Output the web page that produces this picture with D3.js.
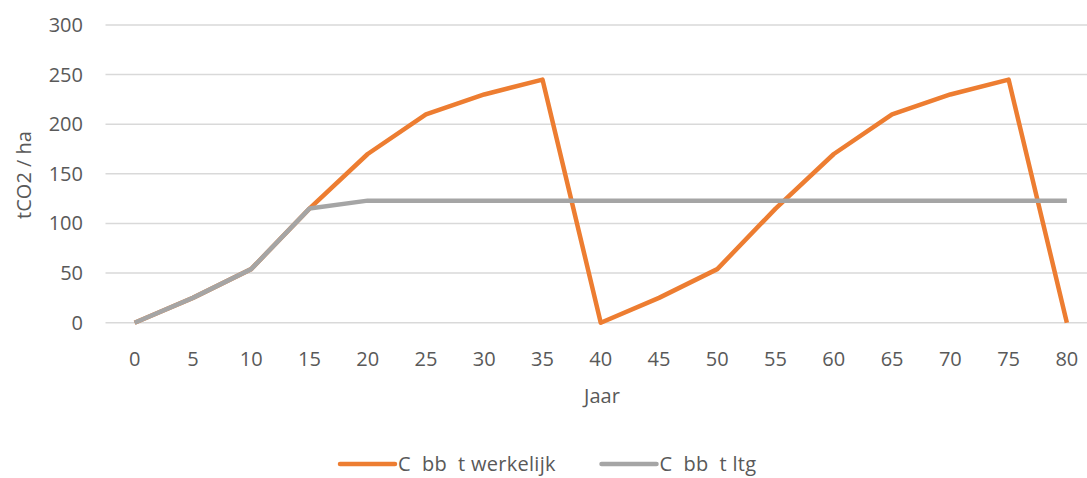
<!DOCTYPE html>
<html>
<head>
<meta charset="utf-8">
<script src="https://cdn.jsdelivr.net/npm/d3@7"></script>
<style>
  body { margin: 0; background: #fff; }
  text { font-family: "Open Sans", sans-serif; fill: #595959; white-space: pre; }
</style>
</head>
<body>
<div id="chart"></div>
<script>
// chart data
var years = [0, 5, 10, 15, 20, 25, 30, 35, 40, 45, 50, 55, 60, 65, 70, 75, 80];
var werkelijk = [0, 25, 54, 115, 170, 210, 230, 245, 0, 25, 54, 115, 170, 210, 230, 245, 0];
var ltg = [0, 25, 54, 115, 123, 123, 123, 123, 123, 123, 123, 123, 123, 123, 123, 123, 123];
var yTicks = [0, 50, 100, 150, 200, 250, 300];
var seriesNames = ["C  bb  t werkelijk", "C  bb  t ltg"];
var seriesColors = ["#ED7D31", "#A5A5A5"];

var width = 1087;
var height = 478;

var svg = d3.select("#chart").append("svg")
    .attr("width", width)
    .attr("height", height);

var x = d3.scaleBand()
    .domain(years)
    .range([105.5, 1096]);

var y = d3.scaleLinear()
    .domain([0, 300])
    .range([322.7, 25]);

function cx(d) { return x(d) + x.bandwidth() / 2; }

// gridlines
svg.append("g")
  .selectAll("line")
  .data(yTicks)
  .enter()
  .append("line")
    .attr("x1", x.range()[0])
    .attr("x2", x.range()[1])
    .attr("y1", function(d) { return y(d); })
    .attr("y2", function(d) { return y(d); })
    .attr("stroke", "#D9D9D9")
    .attr("stroke-width", 1.5);

// y tick labels
svg.append("g")
  .selectAll("text")
  .data(yTicks)
  .enter()
  .append("text")
    .attr("x", 83)
    .attr("y", function(d) { return y(d); })
    .attr("dy", "0.35em")
    .attr("text-anchor", "end")
    .style("font-size", "20px")
    .text(function(d) { return d; });

// x tick labels
svg.append("g")
  .selectAll("text")
  .data(years)
  .enter()
  .append("text")
    .attr("x", cx)
    .attr("y", 359)
    .attr("dy", "0.35em")
    .attr("text-anchor", "middle")
    .style("font-size", "20px")
    .text(function(d) { return d; });

// axis titles
svg.append("text")
    .attr("transform", "translate(24,175) rotate(-90)")
    .attr("dy", "0.35em")
    .attr("text-anchor", "middle")
    .style("font-size", "20px")
    .text("tCO2 / ha");

svg.append("text")
    .attr("x", 602)
    .attr("y", 396)
    .attr("dy", "0.35em")
    .attr("text-anchor", "middle")
    .style("font-size", "20px")
    .text("Jaar");

// lines, orange first so the grey one sits on top
var line = d3.line()
    .x(function(d, i) { return cx(years[i]); })
    .y(function(d) { return y(d); });

[werkelijk, ltg].forEach(function(values, i) {
  svg.append("path")
      .datum(values)
      .attr("fill", "none")
      .attr("stroke", seriesColors[i])
      .attr("stroke-width", 4.5)
      .attr("stroke-linejoin", "round")
      .attr("d", line);
});

// legend
var legendX = [340, 601.5];
var legend = svg.append("g")
  .selectAll("g")
  .data(seriesNames)
  .enter()
  .append("g")
    .attr("transform", function(d, i) { return "translate(" + legendX[i] + ",464)"; });

legend.append("line")
    .attr("x1", 0)
    .attr("x2", 55)
    .attr("stroke", function(d, i) { return seriesColors[i]; })
    .attr("stroke-width", 4.5)
    .attr("stroke-linecap", "round");

legend.append("text")
    .attr("x", 58)
    .attr("dy", "0.35em")
    .style("font-size", "20px")
    .style("letter-spacing", "0.3px")
    .text(function(d) { return d; });
</script>
</body>
</html>
